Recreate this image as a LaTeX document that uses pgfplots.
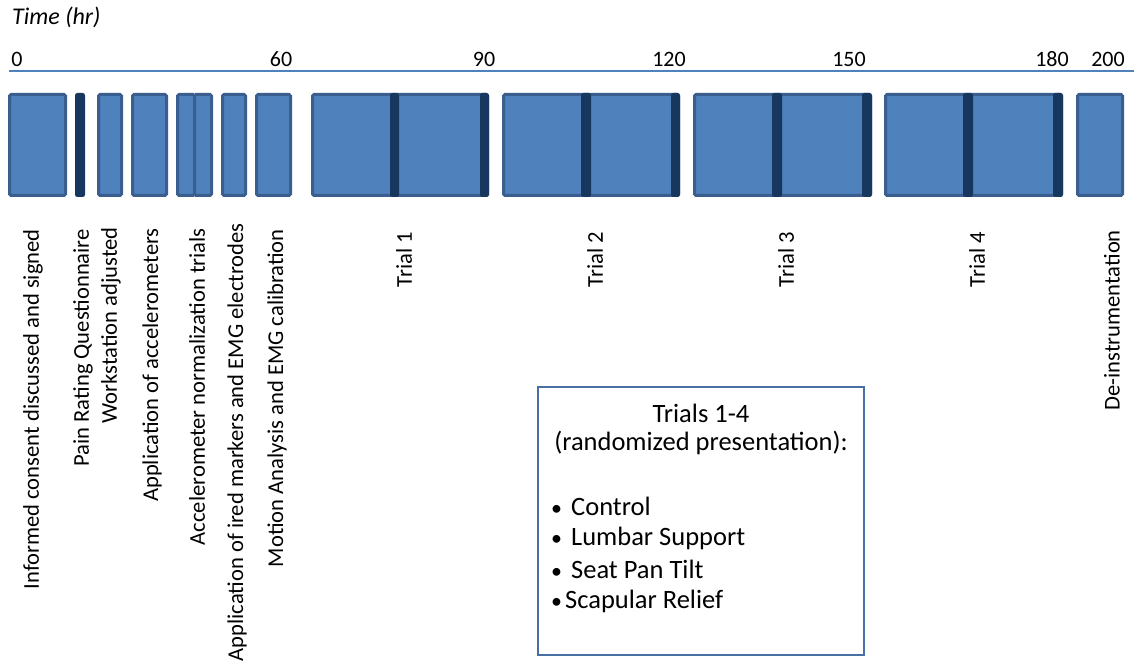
\documentclass[border=0pt]{standalone}
\usepackage{pgfplots}
\pgfplotsset{compat=1.18}
\usepackage{fontspec}
\setmainfont{Carlito}
\definecolor{lightblue}{HTML}{4F81BD}
\definecolor{borderblue}{HTML}{3A5F8F}
\definecolor{darkblue}{HTML}{17375E}
\definecolor{boxblue}{HTML}{4A6FA5}
\tikzset{
  light/.style={fill=lightblue, draw=borderblue, line width=3bp, rounded corners=1.5bp},
  dark/.style={fill=darkblue, draw=darkblue, line width=1bp, rounded corners=2bp},
  lab/.style={font=\fontsize{22.6bp}{26bp}\selectfont, rotate=90, anchor=east, inner sep=0pt},
  tlab/.style={font=\fontsize{22bp}{26bp}\selectfont, anchor=base, inner sep=0pt},
  boxt/.style={font=\fontsize{26.5bp}{30bp}\selectfont, inner sep=0pt},
}
\begin{document}
\begin{tikzpicture}
\begin{axis}[
  x=1bp, y=1bp, y dir=reverse,
  xmin=0, xmax=1138, ymin=0, ymax=663,
  hide axis, clip=false,
]
\path (axis cs:0,0) (axis cs:1138,663);
% axis line
\addplot[lightblue, line width=1.5bp] coordinates {(9,71) (1134,71)};
% light blocks
\addplot[light] coordinates {(9.5,94.5) (65.5,94.5) (65.5,195.5) (9.5,195.5)} --cycle;
\addplot[light] coordinates {(98.5,94.5) (121.5,94.5) (121.5,195.5) (98.5,195.5)} --cycle;
\addplot[light] coordinates {(132.5,94.5) (166.5,94.5) (166.5,195.5) (132.5,195.5)} --cycle;
\addplot[light] coordinates {(177.5,94.5) (194.5,94.5) (194.5,195.5) (177.5,195.5)} --cycle;
\addplot[light] coordinates {(194.5,94.5) (211.5,94.5) (211.5,195.5) (194.5,195.5)} --cycle;
\addplot[light] coordinates {(222.5,94.5) (245.5,94.5) (245.5,195.5) (222.5,195.5)} --cycle;
\addplot[light] coordinates {(256.5,94.5) (290.5,94.5) (290.5,195.5) (256.5,195.5)} --cycle;
\addplot[light] coordinates {(312.5,94.5) (487.5,94.5) (487.5,195.5) (312.5,195.5)} --cycle;
\addplot[light] coordinates {(503.5,94.5) (678.5,94.5) (678.5,195.5) (503.5,195.5)} --cycle;
\addplot[light] coordinates {(694.5,94.5) (870.5,94.5) (870.5,195.5) (694.5,195.5)} --cycle;
\addplot[light] coordinates {(885.5,94.5) (1061.5,94.5) (1061.5,195.5) (885.5,195.5)} --cycle;
\addplot[light] coordinates {(1077.5,94.5) (1122.5,94.5) (1122.5,195.5) (1077.5,195.5)} --cycle;
% dark bars
\addplot[dark] coordinates {(75.5,93.5) (84.5,93.5) (84.5,196.5) (75.5,196.5)} --cycle;
\addplot[dark] coordinates {(390.5,93.5) (398.5,93.5) (398.5,196.5) (390.5,196.5)} --cycle;
\addplot[dark] coordinates {(480.5,93.5) (488.5,93.5) (488.5,196.5) (480.5,196.5)} --cycle;
\addplot[dark] coordinates {(581.5,93.5) (590.5,93.5) (590.5,196.5) (581.5,196.5)} --cycle;
\addplot[dark] coordinates {(671.5,93.5) (679.5,93.5) (679.5,196.5) (671.5,196.5)} --cycle;
\addplot[dark] coordinates {(772.5,93.5) (781.5,93.5) (781.5,196.5) (772.5,196.5)} --cycle;
\addplot[dark] coordinates {(862.5,93.5) (871.5,93.5) (871.5,196.5) (862.5,196.5)} --cycle;
\addplot[dark] coordinates {(963.5,93.5) (972.5,93.5) (972.5,196.5) (963.5,196.5)} --cycle;
\addplot[dark] coordinates {(1053.5,93.5) (1062.5,93.5) (1062.5,196.5) (1053.5,196.5)} --cycle;
% title and tick labels
\node[font=\fontsize{24bp}{28bp}\selectfont\itshape, anchor=west, inner sep=0pt] at (axis cs:12,17) {Time (hr)};
\node[tlab] at (axis cs:17,67) {0};
\node[tlab] at (axis cs:281,67) {60};
\node[tlab] at (axis cs:484,67) {90};
\node[tlab] at (axis cs:669,67) {120};
\node[tlab] at (axis cs:849,67) {150};
\node[tlab] at (axis cs:1052,67) {180};
\node[tlab] at (axis cs:1108,67) {200};
% rotated labels
\node[lab] at (axis cs:33,229) {Informed consent discussed and signed};
\node[lab] at (axis cs:83,229) {Pain Rating Questionnaire};
\node[lab] at (axis cs:111,227) {Workstation adjusted};
\node[lab] at (axis cs:152,228) {Application of accelerometers};
\node[lab] at (axis cs:197,228) {Accelerometer normalization trials};
\node[lab] at (axis cs:237,223) {Application of ired markers and EMG electrodes};
\node[lab] at (axis cs:277,229) {Motion Analysis and EMG calibration};
\node[lab] at (axis cs:404,232) {Trial 1};
\node[lab] at (axis cs:595,232) {Trial 2};
\node[lab] at (axis cs:786,232) {Trial 3};
\node[lab] at (axis cs:977,232) {Trial 4};
\node[lab] at (axis cs:1112,230) {De-instrumentation};
% box
\draw[boxblue, line width=1.5bp] (axis cs:538,387) rectangle (axis cs:864,655);
\node[boxt] at (axis cs:701,413) {Trials 1-4};
\node[boxt] at (axis cs:701,443) {(randomized presentation):};
\node[boxt, anchor=west] at (axis cs:551,506) {{\fontsize{22bp}{26bp}\selectfont\textbullet}\hspace{9bp}Control};
\node[boxt, anchor=west] at (axis cs:551,538) {{\fontsize{22bp}{26bp}\selectfont\textbullet}\hspace{9bp}Lumbar Support};
\node[boxt, anchor=west] at (axis cs:551,569) {{\fontsize{22bp}{26bp}\selectfont\textbullet}\hspace{9bp}Seat Pan Tilt};
\node[boxt, anchor=west] at (axis cs:551,601) {{\fontsize{22bp}{26bp}\selectfont\textbullet}\hspace{3bp}Scapular Relief};
\end{axis}
\end{tikzpicture}
\end{document}
